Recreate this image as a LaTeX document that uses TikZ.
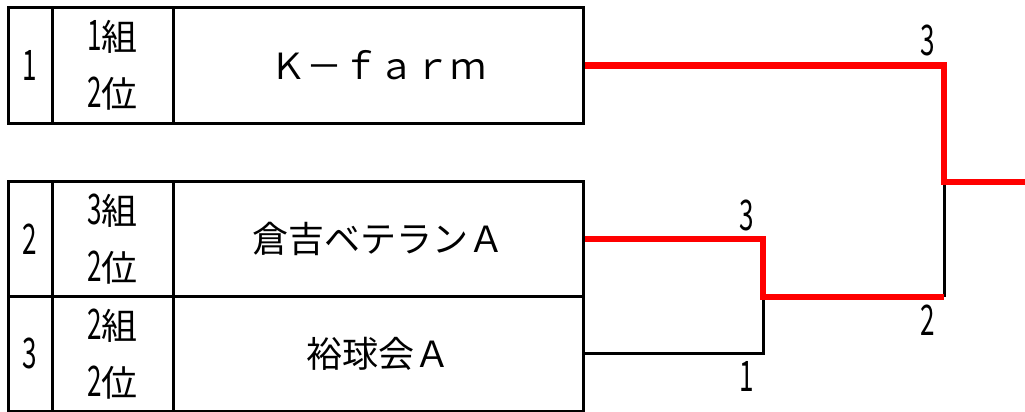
\documentclass[tikz,border=0pt]{standalone}
\usepackage{fontspec}
\setmainfont{Noto Sans CJK JP}
\newfontfamily\narrowfont[FakeStretch=0.62,Scale=1.17]{Noto Sans CJK JP}
\begin{document}
\begin{tikzpicture}[x=1pt,y=-1pt,
  cell/.style={draw, line width=3pt, inner sep=0pt, align=center,
    font=\fontsize{36pt}{57pt}\selectfont},
  lbl/.style={inner sep=0pt, font=\fontsize{36pt}{40pt}\selectfont\narrowfont},
  blk/.style={draw=black, line width=3pt},
  win/.style={draw=red, line width=6.5pt}]
\useasboundingbox (0,0) rectangle (1025,412);
% row 1
\node[cell, minimum width=44pt, minimum height=115pt] (n1) at (30,65.5) {\narrowfont 1};
\node[cell, minimum width=121pt, minimum height=115pt] (g1) at (112.5,65.5) {{\narrowfont 1}組\\{\narrowfont 2}位};
\node[cell, minimum width=410pt, minimum height=115pt] (t1) at (378,65.5) {Ｋ－ｆａｒｍ};
% row 2
\node[cell, minimum width=44pt, minimum height=115pt] (n2) at (30,239) {\narrowfont 2};
\node[cell, minimum width=121pt, minimum height=115pt] (g2) at (112.5,239) {{\narrowfont 3}組\\{\narrowfont 2}位};
\node[cell, minimum width=410pt, minimum height=115pt] (t2) at (378,239) {倉吉ベテランＡ};
% row 3
\node[cell, minimum width=44pt, minimum height=114.5pt] (n3) at (30,353.75) {\narrowfont 3};
\node[cell, minimum width=121pt, minimum height=114.5pt] (g3) at (112.5,353.75) {{\narrowfont 2}組\\{\narrowfont 2}位};
\node[cell, minimum width=410pt, minimum height=114.5pt] (t3) at (378,353.75) {裕球会Ａ};
% bracket
\coordinate (j1) at (763,297);
\coordinate (j1r) at (944,297);
\coordinate (j2) at (944,182);
\coordinate (out) at (1025,182);
\draw[blk] (t3.east) -| (j1);
\draw[blk] (j2) -- (j1r);
\draw[win] (t2.east) -| (j1) -- (j1r);
\draw[win] (t1.east) -| (j2) -- (out);
% scores
\node[lbl] (s1) at (928,40) {3};
\node[lbl] (s2) at (747,215) {3};
\node[lbl] (s3) at (928,320) {2};
\node[lbl] (s4) at (747,376) {1};
\end{tikzpicture}
\end{document}
